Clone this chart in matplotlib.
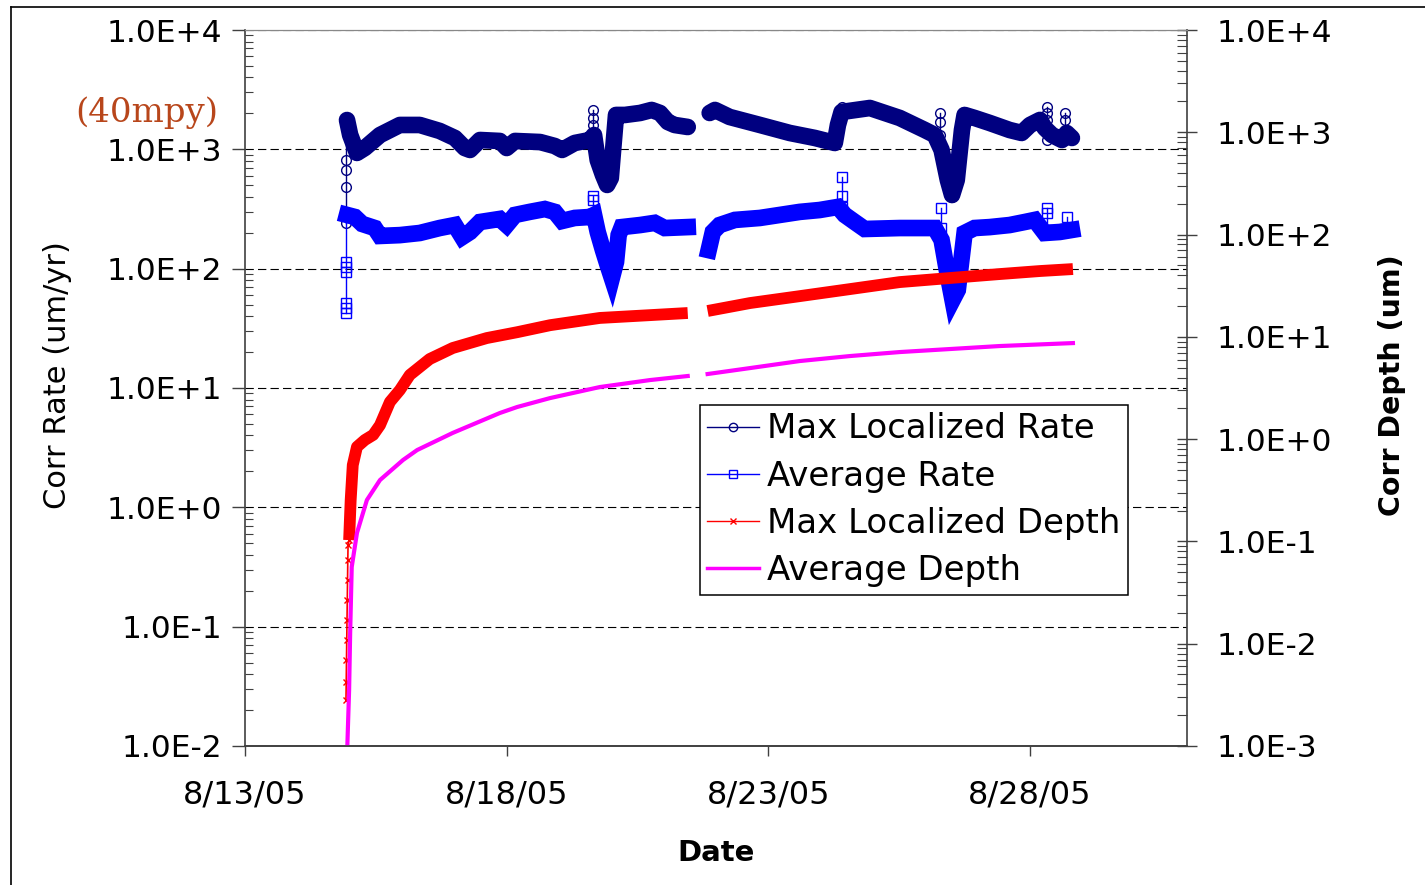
import numpy as np
import matplotlib
matplotlib.use("Agg")
import matplotlib.pyplot as plt
import matplotlib.dates as mdates
from matplotlib.ticker import LogLocator, FixedLocator, FuncFormatter, NullFormatter
from matplotlib.lines import Line2D
from datetime import datetime

nan = np.nan
start = mdates.date2num(datetime(2005, 8, 13))

# times are days after 8/13/05, NaN marks the logging gap around 8/21
max_rate_day = [1.95, 2.01, 2.14, 2.29, 2.58, 2.96, 3.34, 3.72, 4.01, 4.20,
                4.30, 4.49, 4.87, 5.00, 5.16, 5.64, 5.92, 6.06, 6.30, 6.59,
                6.67, 6.74, 6.84, 6.92, 6.99, 7.05, 7.09, 7.26, 7.55, 7.77,
                7.93, 8.08, 8.21, 8.46, 8.66,
                8.88, 8.98, 9.26, 9.84, 10.41, 10.89, 11.27, 11.33, 11.40, 11.94,
                12.51, 12.99, 13.18, 13.31, 13.43, 13.51, 13.60, 13.70, 13.75, 13.94,
                14.23, 14.61, 14.84, 15.00, 15.19, 15.28, 15.42, 15.61, 15.70, 15.80]
max_rate = [1760, 1320, 933, 1026, 1318, 1600, 1600, 1426, 1245, 1026,
            988, 1197, 1175, 1026, 1175, 1151, 1066, 988, 1130, 1197,
            1318, 814, 610, 503, 575, 1197, 1941, 1941, 2017, 2138,
            2017, 1695, 1600, 1539, nan,
            2017, 2138, 1867, 1600, 1371, 1245, 1130, 1600, 2056, 2220,
            1832, 1452, 1318, 988, 553, 414, 553, 1452, 1941, 1832,
            1663, 1452, 1371, 1600, 1763, 1510, 1318, 1197, 1371, 1245]

avg_rate_day = [1.95, 2.10, 2.24, 2.48, 2.58, 2.96, 3.34, 3.72, 4.01, 4.15,
                4.30, 4.49, 4.87, 5.00, 5.16, 5.44, 5.73, 5.92, 6.06, 6.30,
                6.59, 6.67, 6.74, 6.84, 6.93, 7.01, 7.09, 7.14, 7.20, 7.55,
                7.83, 8.02, 8.46, 8.66,
                8.86, 8.94, 9.07, 9.36, 9.84, 10.22, 10.60, 10.98, 11.33, 11.46,
                11.65, 11.84, 12.51, 13.18, 13.31, 13.41, 13.52, 13.62, 13.70, 13.75,
                13.94, 14.23, 14.61, 14.90, 15.09, 15.28, 15.57, 15.80]
avg_rate = [282, 271, 237, 219, 188, 191, 199, 219, 232, 184,
            203, 246, 261, 232, 282, 299, 316, 299, 251, 266,
            271, 282, 203, 143, 107, 83.5, 114, 191, 223, 232,
            242, 219, 223, nan,
            143, 203, 232, 256, 266, 282, 299, 310, 329, 282,
            246, 215, 219, 219, 174, 97.5, 54.6, 66.3, 130, 199,
            219, 223, 232, 246, 256, 199, 203, 211]

# isolated readings drawn as open markers above/below the dense band
max_spike_day = [1.93, 6.65, 11.40, 13.28, 15.32, 15.66]
max_spike_vals = [[242, 483, 672, 814, 1760], [1318, 1600, 1832, 2138], [2056, 2265],
                  [1087, 1318, 1695, 2017], [1197, 1763, 2017, 2265], [1371, 1763, 2017]]
avg_spike_day = [1.93, 6.65, 11.40, 13.29, 15.32, 15.70]
avg_spike_vals = [[42.6, 47, 51.5, 94, 103, 114, 282], [282, 376, 406], [329, 406, 587],
                  [219, 323], [210, 293, 323], [205, 271]]

max_depth_day = [1.93, 1.935, 1.94, 1.945, 1.95, 1.955, 1.96, 1.965, 1.97,
                 1.99, 2.02, 2.06, 2.14, 2.29, 2.45, 2.58, 2.77, 2.96, 3.15,
                 3.53, 3.97, 4.62, 5.20, 5.83, 6.78, 7.74, 8.46, 8.66,
                 8.84, 9.65, 10.60, 11.56, 12.51, 13.47, 14.42, 15.19, 15.82]
max_depth = [0.00282, 0.00423, 0.00693, 0.0109, 0.0171, 0.0267, 0.042, 0.0658, 0.0923,
             0.103, 0.254, 0.558, 0.84, 0.98, 1.10, 1.37, 2.31, 3.02, 4.24,
             6.07, 7.78, 9.73, 11.1, 13.0, 15.3, 16.3, 17.1, nan,
             17.9, 21.4, 25.0, 29.3, 34.3, 37.6, 41.1, 44.0, 46.0]
n_sparse_depth = 9  # first readings are spaced out enough to show the x markers

avg_depth_day = [1.95, 1.99, 2.01, 2.04, 2.14, 2.33, 2.58, 3.02, 3.29, 3.97,
                 4.87, 5.20, 5.83, 6.78, 7.74, 8.46, 8.66,
                 8.84, 9.65, 10.60, 11.56, 12.51, 13.47, 14.42, 15.82]
avg_depth = [0.0008, 0.00352, 0.0127, 0.0562, 0.121, 0.254, 0.398, 0.625, 0.782, 1.15,
             1.80, 2.06, 2.52, 3.23, 3.78, 4.14, nan,
             4.33, 4.95, 5.80, 6.49, 7.10, 7.60, 8.13, 8.69]

tick_days = [0, 5, 10, 15]
labels = ['Max Localized Rate', 'Average Rate', 'Max Localized Depth', 'Average Depth']
navy, blue, red, magenta = '#000080', '#0000FF', '#FF0000', '#FF00FF'

plt.rcParams['font.family'] = ['DejaVu Sans']

fig = plt.figure(figsize=(14.25, 8.85), dpi=100)
ax = fig.add_axes([0.1719, 0.1571, 0.6611, 0.809])
ax2 = ax.twinx()

def xs(days):
    return start + np.asarray(days, dtype=float)

# rates on the left axis
for d, vals in zip(max_spike_day, max_spike_vals):
    ax.plot(xs([d] * len(vals)), vals, color=navy, lw=1, marker='o', ms=7,
            mfc='none', mec=navy, mew=1)
ax.plot(xs(max_rate_day), max_rate, color=navy, lw=12,
        solid_capstyle='round', solid_joinstyle='round')
for d, vals in zip(avg_spike_day, avg_spike_vals):
    ax.plot(xs([d] * len(vals)), vals, color=blue, lw=1, marker='s', ms=7,
            mfc='none', mec=blue, mew=1)
ax.plot(xs(avg_rate_day), avg_rate, color=blue, lw=12,
        solid_capstyle='projecting', solid_joinstyle='miter')

# depths on the right axis
ax2.plot(xs(max_depth_day[:n_sparse_depth + 1]), max_depth[:n_sparse_depth + 1],
         color=red, lw=1.2, marker='x', ms=5, mew=1)
ax2.plot(xs(max_depth_day[n_sparse_depth:]), max_depth[n_sparse_depth:], color=red, lw=8.5,
         solid_capstyle='butt', solid_joinstyle='round')
ax2.plot(xs(avg_depth_day), avg_depth, color=magenta, lw=3)

def sci(v, pos):
    return f"{v:.1E}".replace("E+0", "E+").replace("E-0", "E-")

for a, lo, hi in [(ax, 1e-2, 1e4), (ax2, 1e-3, 1e4)]:
    a.set_yscale('log')
    a.set_ylim(lo, hi)
    a.yaxis.set_major_locator(LogLocator(base=10, numticks=20))
    a.yaxis.set_minor_locator(LogLocator(base=10, subs=np.arange(2, 10), numticks=100))
    a.yaxis.set_major_formatter(FuncFormatter(sci))
    a.yaxis.set_minor_formatter(NullFormatter())

ax.set_xlim(start, start + 18)
ax.xaxis.set_major_locator(FixedLocator(xs(tick_days)))
ax.xaxis.set_major_formatter(FuncFormatter(
    lambda v, pos: "{d.month}/{d.day}/{d:%y}".format(d=mdates.num2date(v))))

ax.tick_params(axis='y', which='major', direction='out', length=9.5, width=1,
               labelsize=22.5, pad=7, color='#404040')
ax.tick_params(axis='y', which='minor', direction='in', length=6, width=0.8, color='#404040')
ax.tick_params(axis='x', which='major', direction='out', length=7, width=1,
               labelsize=23, pad=17, color='#404040')
ax2.tick_params(axis='y', which='major', direction='inout', length=14, width=1,
                labelsize=22.5, pad=14, color='#404040')
ax2.tick_params(axis='y', which='minor', direction='in', length=7, width=0.8, color='#404040')

ax.yaxis.grid(True, which='major', linestyle=(0, (7.5, 3.75)), color='black', lw=0.8)
ax.set_axisbelow(True)

for a in (ax, ax2):
    a.spines['top'].set_color('#888888')
    a.spines['top'].set_linewidth(0.8)
    for s in ('left', 'bottom', 'right'):
        a.spines[s].set_color('#404040')
        a.spines[s].set_linewidth(1.2)
ax.spines['right'].set_visible(False)
ax2.spines['left'].set_visible(False)

handles = [
    Line2D([], [], color=navy, lw=1, marker='o', ms=6, mfc='none', mec=navy),
    Line2D([], [], color=blue, lw=1, marker='s', ms=6, mfc='none', mec=blue),
    Line2D([], [], color=red, lw=1, marker='x', ms=5),
    Line2D([], [], color=magenta, lw=2.5),
]
leg = ax2.legend(handles, labels, loc='upper left', bbox_to_anchor=(0.483, 0.4763),
                 borderaxespad=0, fontsize=24.5, handlelength=1.5, handletextpad=0.25,
                 labelspacing=0.42, borderpad=0.22, fancybox=False, framealpha=1,
                 edgecolor='black')
leg.get_frame().set_linewidth(1.1)

fig.text(58 / 1425, 1 - 375 / 885, 'Corr Rate (um/yr)', rotation=90,
         ha='center', va='center', fontsize=22)
fig.text(1392 / 1425, 1 - 385 / 885, 'Corr Depth (um)', rotation=90,
         ha='center', va='center', fontsize=20.5, fontweight='bold')
fig.text(716 / 1425, 1 - 853 / 885, 'Date', ha='center', va='center',
         fontsize=21, fontweight='bold')
fig.text(147 / 1425, 1 - 113 / 885, '(40mpy)', ha='center', va='center',
         fontsize=24.5, family='DejaVu Serif', color='#B8461B')

# outer frame of the pasted chart
fig.add_artist(Line2D([11 / 1425, 11 / 1425], [0, 1 - 7 / 885], color='black', lw=1.2))
fig.add_artist(Line2D([11 / 1425, 1], [1 - 7 / 885, 1 - 7 / 885], color='black', lw=1.2))

fig.savefig('out.png', dpi=100, facecolor='white')
